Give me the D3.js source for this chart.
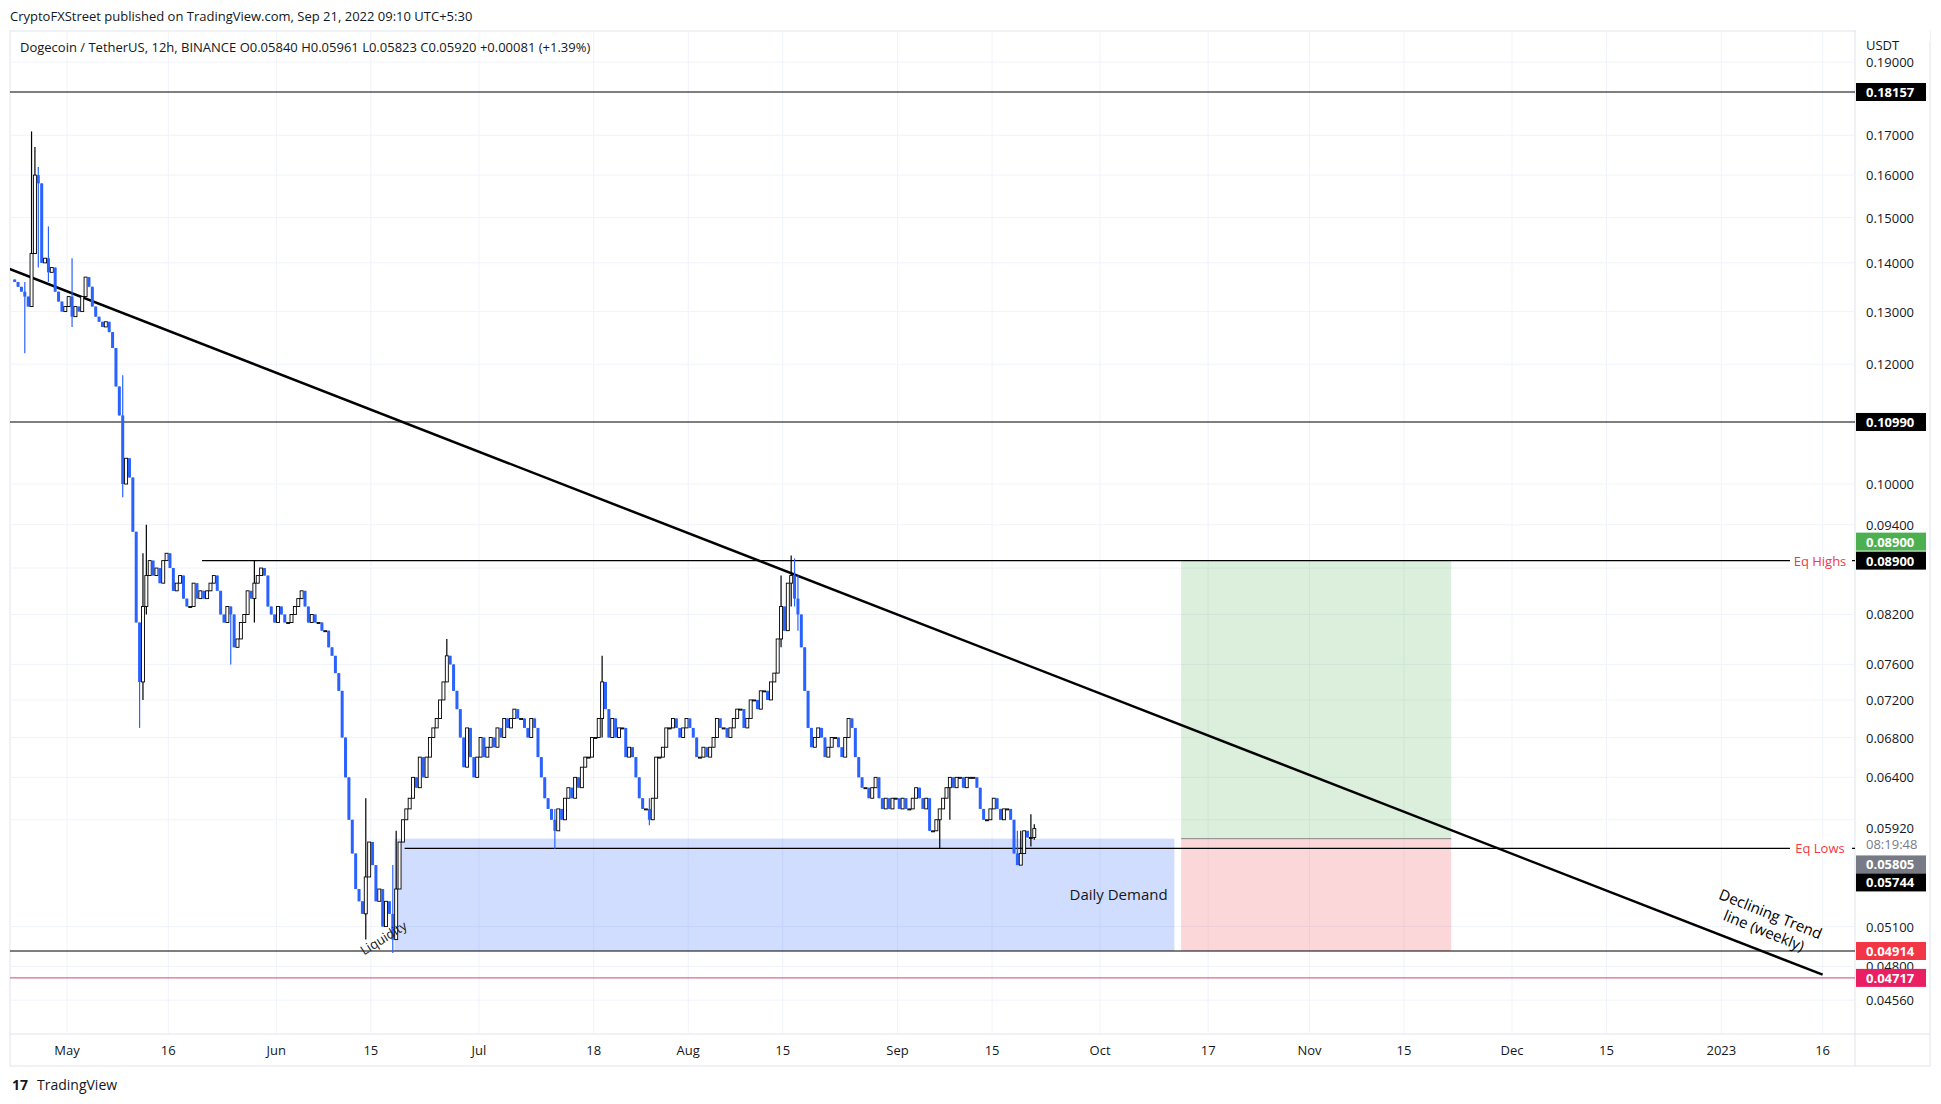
<!DOCTYPE html>
<html>
<head>
<meta charset="utf-8">
<script src="https://cdn.jsdelivr.net/npm/d3@7"></script>
<style>
  body { margin: 0; background: #fff; }
  text { font-family: "Open Sans", "DejaVu Sans", sans-serif; }
</style>
</head>
<body>
<svg id="chart" width="1941" height="1104"></svg>
<script>
// 12h closes, one row per week, starting Apr 23 2022 00:00 UTC
var startDate = "2022-04-23T00:00:00Z";
var closes = [
  0.136,0.135, 0.134,0.133, 0.131,0.142, 0.160,0.158, 0.140,0.141, 0.138,0.139, 0.134,0.132, // Apr 23
  0.130,0.131, 0.133,0.129, 0.131,0.130, 0.133,0.137, 0.135,0.131, 0.129,0.128, 0.127,0.128, // Apr 30
  0.126,0.123, 0.116,0.111, 0.100,0.104, 0.101,0.093, 0.081,0.074, 0.083,0.087, 0.089,0.087, // May 7
  0.088,0.086, 0.089,0.090, 0.088,0.085, 0.086,0.087, 0.084,0.083, 0.083,0.086, 0.084,0.085, // May 14
  0.084,0.085, 0.086,0.087, 0.085,0.082, 0.081,0.083, 0.082,0.078, 0.079,0.081, 0.082,0.085, // May 21
  0.084,0.086, 0.087,0.088, 0.087,0.083, 0.082,0.081, 0.083,0.082, 0.081,0.081, 0.082,0.083, // May 28
  0.084,0.085, 0.083,0.081, 0.082,0.081, 0.081,0.080, 0.080,0.078, 0.077,0.075, 0.073,0.068, // Jun 4
  0.064,0.060, 0.057,0.054, 0.053,0.052, 0.055,0.058, 0.056,0.053, 0.054,0.051, 0.053,0.052, // Jun 11
  0.050,0.054, 0.058,0.060, 0.061,0.062, 0.064,0.063, 0.066,0.064, 0.066,0.068, 0.069,0.070, // Jun 18
  0.072,0.074, 0.077,0.076, 0.073,0.071, 0.068,0.065, 0.069,0.066, 0.064,0.066, 0.068,0.066, // Jun 25
  0.067,0.068, 0.067,0.069, 0.068,0.070, 0.069,0.070, 0.071,0.070, 0.070,0.069, 0.068,0.070, // Jul 2
  0.069,0.066, 0.064,0.062, 0.061,0.060, 0.059,0.061, 0.060,0.062, 0.063,0.062, 0.064,0.063, // Jul 9
  0.065,0.066, 0.066,0.068, 0.068,0.070, 0.074,0.071, 0.068,0.070, 0.068,0.069, 0.069,0.066, // Jul 16
  0.067,0.066, 0.064,0.062, 0.061,0.061, 0.060,0.062, 0.066,0.066, 0.067,0.069, 0.069,0.070, // Jul 23
  0.069,0.068, 0.069,0.070, 0.069,0.068, 0.066,0.066, 0.067,0.066, 0.067,0.068, 0.070,0.069, // Jul 30
  0.069,0.068, 0.069,0.070, 0.071,0.071, 0.069,0.070, 0.072,0.072, 0.071,0.073, 0.073,0.072, // Aug 6
  0.074,0.075, 0.079,0.083, 0.080,0.086, 0.087,0.084, 0.082,0.078, 0.073,0.069, 0.067,0.068, // Aug 13
  0.069,0.068, 0.066,0.067, 0.068,0.068, 0.067,0.066, 0.068,0.070, 0.069,0.066, 0.064,0.063, // Aug 20
  0.063,0.062, 0.063,0.064, 0.062,0.061, 0.062,0.061, 0.062,0.062, 0.061,0.062, 0.061,0.061, // Aug 27
  0.062,0.063, 0.062,0.061, 0.062,0.059, 0.059,0.060, 0.061,0.062, 0.063,0.064, 0.063,0.064, // Sep 3
  0.064,0.063, 0.064,0.064, 0.064,0.063, 0.061,0.060, 0.060,0.061, 0.062,0.061, 0.060,0.061, // Sep 10
  0.061,0.060, 0.057,0.056, 0.057,0.059, 0.0584,0.0584, 0.0592                                // Sep 17
];
// wick extremes for notable candles: [candle start, high, low]
var wicks = [
  ["2022-04-24T12",0.136,0.122],["2022-04-25T12",0.171,0.140],["2022-04-26T00",0.167,0.150],["2022-04-26T12",0.162,0.139],
  ["2022-04-28T00",0.148,0.136],["2022-05-01T12",0.141,0.127],["2022-05-09T00",0.118,0.098],
  ["2022-05-11T12",0.081,0.069],["2022-05-12T00",0.090,0.072],["2022-05-12T12",0.094,0.082],
  ["2022-05-28T12",0.089,0.081],["2022-05-25T00",0.083,0.076],["2022-06-14T00",0.062,0.050],
  ["2022-06-18T00",0.056,0.049],["2022-06-18T12",0.059,0.050],["2022-06-26T00",0.079,0.074],
  ["2022-07-12T00",0.061,0.0574],["2022-07-19T00",0.077,0.068],["2022-07-26T00",0.062,0.0595],
  ["2022-08-14T12",0.087,0.078],["2022-08-16T00",0.0897,0.083],["2022-08-16T12",0.0893,0.083],["2022-08-17T00",0.087,0.080],
  ["2022-09-07T00",0.060,0.0574],["2022-09-08T12",0.064,0.060],["2022-09-18T12",0.059,0.0565],["2022-09-19T00",0.059,0.0567],
  ["2022-09-20T12",0.0605,0.0576],["2022-09-21T00",0.0596,0.0582]
];
var priceTicks = [0.19,0.17,0.16,0.15,0.14,0.13,0.12,0.10,0.094,0.082,0.076,0.072,0.068,0.064,0.051,0.048,0.0456];
var timeTicks = ["2022-05-01","2022-05-16","2022-06-01","2022-06-15","2022-07-01","2022-07-18","2022-08-01","2022-08-15",
  "2022-09-01","2022-09-15","2022-10-01","2022-10-17","2022-11-01","2022-11-15","2022-12-01","2022-12-15","2023-01-01","2023-01-16"];
var timeLabels = ["May","16","Jun","15","Jul","18","Aug","15","Sep","15","Oct","17","Nov","15","Dec","15","2023","16"];
var levels = [0.18157, 0.10990];
var eqHigh = 0.089, eqLow = 0.05744, demandTop = 0.0583, demandBottom = 0.04914, lowLine = 0.04717;
var trend = [["2022-04-22T12:00:00Z",0.1387],["2023-01-16T00:00:00Z",0.0474]];

var L = 10, R = 1855, T = 31, B = 1034;
var svg = d3.select("#chart");
var x = d3.scaleUtc().domain([new Date("2022-05-01T00:00:00Z"), new Date("2022-12-01T00:00:00Z")]).range([67, 1512]);
var y = d3.scaleLog().domain([0.18157, 0.04914]).range([92, 951]);
var t0 = new Date(startDate).getTime(), H12 = 12*3600*1000;

// frame
svg.append("rect").attr("x",L).attr("y",T).attr("width",1920).attr("height",B+32-T).attr("fill","none").attr("stroke","#e0e3eb");
svg.append("line").attr("x1",R).attr("x2",R).attr("y1",T).attr("y2",B+32).attr("stroke","#e0e3eb");
svg.append("line").attr("x1",L).attr("x2",1930).attr("y1",B).attr("y2",B).attr("stroke","#e0e3eb");

// grid
svg.append("clipPath").attr("id","c").append("rect").attr("x",L).attr("y",T).attr("width",R-L).attr("height",B-T);
var g = svg.append("g").attr("clip-path","url(#c)");
g.selectAll(".vg").data(timeTicks).enter().append("line")
  .attr("x1",d=>x(new Date(d))).attr("x2",d=>x(new Date(d))).attr("y1",T).attr("y2",B).attr("stroke","#f0f3fa");
g.selectAll(".hg").data(priceTicks.concat([0.088,0.060])).enter().append("line")
  .attr("x1",L).attr("x2",R).attr("y1",d=>y(d)).attr("y2",d=>y(d)).attr("stroke","#f0f3fa");

// zones
var dDemand0 = new Date("2022-06-18T12:00:00Z"), dDemand1 = new Date("2022-10-12T00:00:00Z");
g.append("rect").attr("x",x(dDemand0)).attr("width",x(dDemand1)-x(dDemand0))
  .attr("y",y(demandTop)).attr("height",y(demandBottom)-y(demandTop)).attr("fill","rgba(41,98,255,0.22)");
var dPos0 = new Date("2022-10-13T00:00:00Z"), dPos1 = new Date("2022-11-22T00:00:00Z");
g.append("rect").attr("x",x(dPos0)).attr("width",x(dPos1)-x(dPos0))
  .attr("y",y(eqHigh)).attr("height",y(demandTop)-y(eqHigh)).attr("fill","rgba(76,175,80,0.2)");
g.append("rect").attr("x",x(dPos0)).attr("width",x(dPos1)-x(dPos0))
  .attr("y",y(demandTop)).attr("height",y(demandBottom)-y(demandTop)).attr("fill","rgba(242,54,69,0.2)");
g.append("line").attr("x1",x(dPos0)).attr("x2",x(dPos1)).attr("y1",y(demandTop)).attr("y2",y(demandTop)).attr("stroke","#888").attr("stroke-width",1);

// horizontal levels
levels.concat([demandBottom]).forEach(function(v){
  g.append("line").attr("x1",L).attr("x2",R).attr("y1",y(v)).attr("y2",y(v)).attr("stroke","#000").attr("stroke-width",1.2);
});
g.append("line").attr("x1",L).attr("x2",R).attr("y1",y(lowLine)).attr("y2",y(lowLine)).attr("stroke","#c2185b").attr("stroke-width",0.8);
g.append("line").attr("x1",x(new Date("2022-05-21"))).attr("x2",R).attr("y1",y(eqHigh)).attr("y2",y(eqHigh)).attr("stroke","#000").attr("stroke-width",1.2);
g.append("line").attr("x1",x(new Date("2022-06-20"))).attr("x2",R).attr("y1",y(eqLow)).attr("y2",y(eqLow)).attr("stroke","#000").attr("stroke-width",1.2);

// trend line
g.append("line").attr("x1",x(new Date(trend[0][0]))).attr("y1",y(trend[0][1]))
  .attr("x2",x(new Date(trend[1][0]))).attr("y2",y(trend[1][1])).attr("stroke","#000").attr("stroke-width",2.5);

// candles
var wickMap = {}; wicks.forEach(w => wickMap[new Date(w[0]+":00:00Z").getTime()] = w);
var candles = closes.map(function(c,i){
  var o = i ? closes[i-1] : 0.1365, ts = t0 + i*H12;
  var hi = Math.max(o,c), lo = Math.min(o,c);
  if (wickMap[ts]) { hi = Math.max(hi, wickMap[ts][1]); lo = Math.min(lo, wickMap[ts][2]); }
  return {t: new Date(ts + H12/2), o:o, c:c, h:hi, l:lo};
});
var cg = g.append("g");
candles.forEach(function(d){
  var up = d.c >= d.o, cx = x(d.t), col = up ? "#000" : "#2962ff";
  cg.append("line").attr("x1",cx).attr("x2",cx).attr("y1",y(d.h)).attr("y2",y(d.l)).attr("stroke",col).attr("stroke-width",1.2);
  var top = y(Math.max(d.o,d.c)), h = Math.max(1, y(Math.min(d.o,d.c)) - top);
  cg.append("rect").attr("x",cx-1.5).attr("width",3).attr("y",top).attr("height",h)
    .attr("fill", up ? "#fff" : "#2962ff").attr("stroke", col).attr("stroke-width", up ? 0.9 : 0);
});

// annotations
g.append("text").attr("x",x(new Date("2022-10-11"))).attr("y",y(0.0535)+5).attr("text-anchor","end")
  .attr("font-size",15).attr("fill","#131722").text("Daily Demand");
g.append("text").attr("transform","translate("+(x(new Date("2022-06-14")))+","+(y(0.0488))+") rotate(-32)")
  .attr("font-size",13).attr("fill","#131722").text("Liquidity");
var tg = g.append("g").attr("transform","translate("+x(new Date("2023-01-08"))+","+y(0.0516)+") rotate(22)");
tg.append("text").attr("text-anchor","middle").attr("font-size",15).attr("fill","#000").text("Declining Trend");
tg.append("text").attr("y",18).attr("text-anchor","middle").attr("font-size",15).attr("fill","#000").text("line (weekly)");
[["Eq Highs",eqHigh],["Eq Lows",eqLow]].forEach(function(e){
  var yy = y(e[1]);
  svg.append("rect").attr("x",1790).attr("y",yy-8).attr("width",62).attr("height",16).attr("fill","#fff");
  svg.append("text").attr("x",1820).attr("y",yy+5).attr("text-anchor","middle").attr("font-size",13).attr("fill","#f23645").text(e[0]);
});

// price axis
var ax = svg.append("g");
ax.selectAll("text.pt").data(priceTicks).enter().append("text")
  .attr("x",1866).attr("y",d=>y(d)+5).attr("font-size",13).attr("fill","#131722").text(d=>d.toFixed(5));
svg.append("rect").attr("x",1856).attr("y",30).attr("width",74).attr("height",12).attr("fill","#fff");
svg.append("text").attr("x",1866).attr("y",50).attr("font-size",13).attr("fill","#131722").text("USDT");
function tag(v, yy, bg, txt){
  ax.append("rect").attr("x",1856).attr("y",yy-9).attr("width",70).attr("height",18).attr("fill",bg);
  ax.append("text").attr("x",1866).attr("y",yy+5).attr("font-size",13).attr("fill",txt).attr("font-weight","bold").text(v.toFixed(5));
}
tag(0.18157, y(0.18157), "#000", "#fff");
tag(0.10990, y(0.10990), "#000", "#fff");
tag(0.08900, y(eqHigh)-19, "#4caf50", "#fff");
tag(0.08900, y(eqHigh), "#000", "#fff");
ax.append("rect").attr("x",1856).attr("y",y(0.0592)-10).attr("width",70).attr("height",34).attr("fill","#fff");
ax.append("text").attr("x",1866).attr("y",y(0.0592)+4).attr("font-size",13).attr("fill","#131722").text("0.05920");
ax.append("text").attr("x",1866).attr("y",y(0.0592)+20).attr("font-size",13).attr("fill","#787b86").text("08:19:48");
tag(0.05805, y(eqLow)+16, "#787b86", "#fff");
tag(0.05744, y(eqLow)+34, "#000", "#fff");
tag(0.04914, y(demandBottom), "#f23645", "#fff");
tag(0.04717, y(lowLine), "#e91e63", "#fff");

// time axis
svg.selectAll("text.tt").data(timeTicks).enter().append("text")
  .attr("x",(d)=>x(new Date(d))).attr("y",1055).attr("text-anchor","middle").attr("font-size",13).attr("fill","#131722")
  .text((d,i)=>timeLabels[i]);

// header and footer
svg.append("text").attr("x",10).attr("y",21).attr("font-size",13).attr("fill","#131722")
  .text("CryptoFXStreet published on TradingView.com, Sep 21, 2022 09:10 UTC+5:30");
svg.append("text").attr("x",20).attr("y",52).attr("font-size",13).attr("fill","#131722")
  .text("Dogecoin / TetherUS, 12h, BINANCE  O0.05840  H0.05961  L0.05823  C0.05920  +0.00081 (+1.39%)");
svg.append("text").attr("x",12).attr("y",1090).attr("font-size",14).attr("font-weight","bold").attr("fill","#131722").text("17");
svg.append("text").attr("x",37).attr("y",1090).attr("font-size",14).attr("fill","#131722").text("TradingView");
</script>
</body>
</html>
